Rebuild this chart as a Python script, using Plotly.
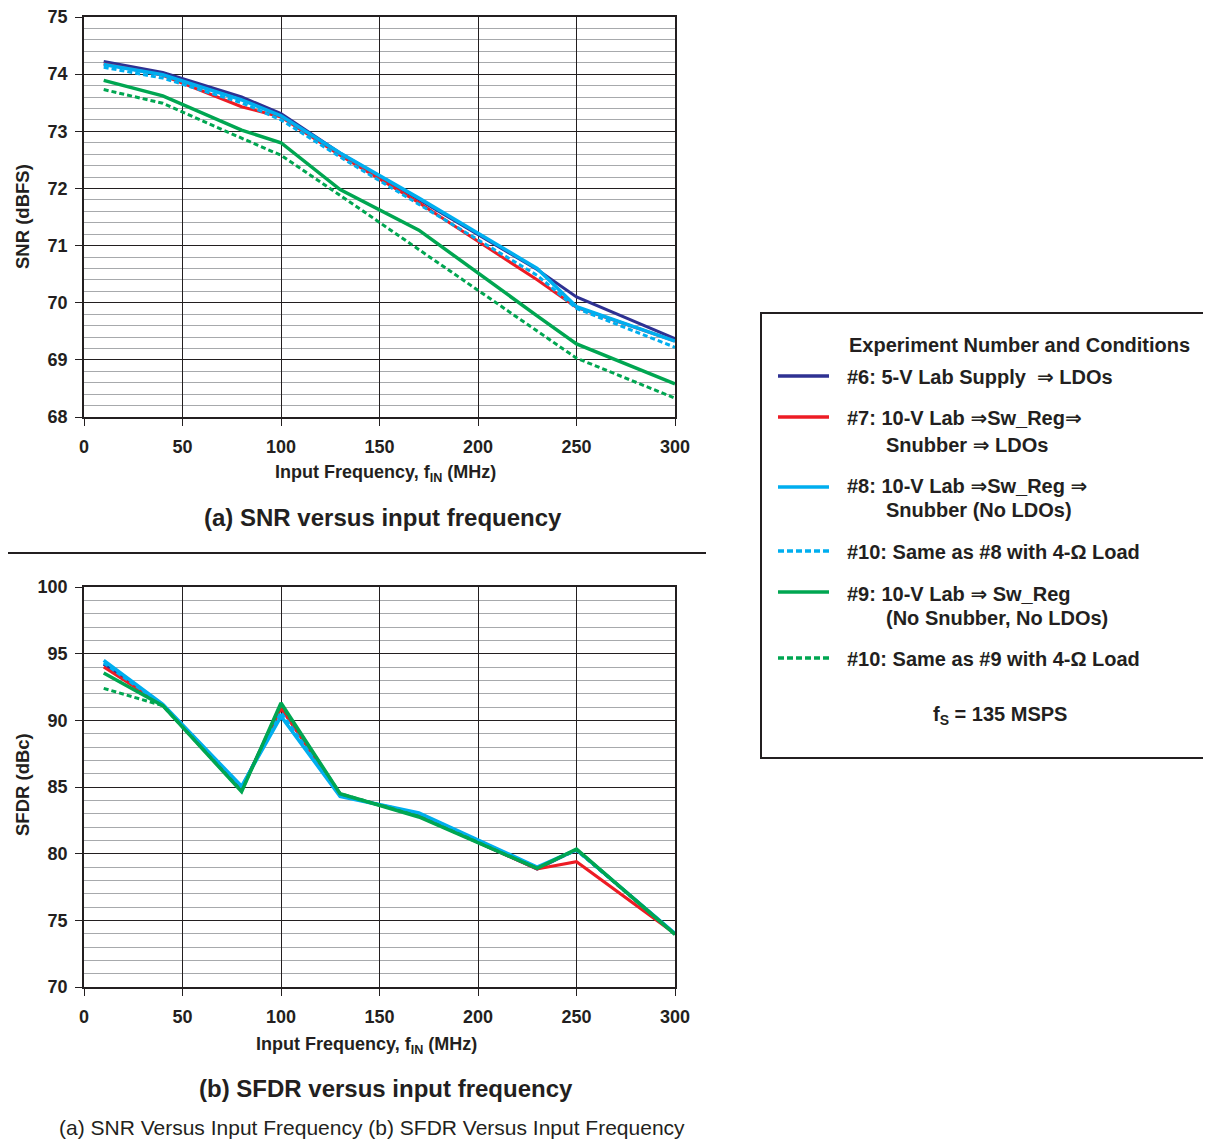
import plotly.graph_objects as go

# ---------------- data ----------------
freq = [10, 40, 80, 100, 130, 170, 230, 250, 300]

snr_6 = [74.22, 74.03, 73.60, 73.31, 72.62, 71.80, 70.58, 70.10, 69.37]
snr_7 = [74.18, 73.98, 73.43, 73.25, 72.58, 71.75, 70.40, 69.92, 69.33]
snr_8 = [74.17, 73.99, 73.55, 73.27, 72.62, 71.83, 70.60, 69.93, 69.33]
snr_10a = [74.12, 73.93, 73.50, 73.20, 72.55, 71.72, 70.48, 69.90, 69.22]
snr_9 = [73.89, 73.62, 73.02, 72.80, 71.98, 71.27, 69.77, 69.28, 68.58]
snr_10b = [73.73, 73.49, 72.88, 72.58, 71.88, 70.93, 69.50, 69.03, 68.33]

sfdr_6 = [94.20, 91.15, 84.90, 91.00, 84.45, 82.85, 78.85, 80.30, 74.00]
sfdr_7 = [94.00, 91.15, 84.85, 90.90, 84.45, 82.85, 78.85, 79.40, 74.00]
sfdr_8 = [94.50, 91.20, 85.05, 90.30, 84.30, 83.05, 79.00, 80.30, 74.00]
sfdr_10a = [94.30, 91.15, 85.00, 90.60, 84.35, 83.00, 78.95, 80.25, 74.00]
sfdr_9 = [93.55, 91.10, 84.65, 91.30, 84.50, 82.75, 78.90, 80.35, 73.95]
sfdr_10b = [92.40, 91.10, 84.70, 91.20, 84.50, 82.80, 78.90, 80.30, 73.95]

x_ticks = [0, 50, 100, 150, 200, 250, 300]
snr_ticks = [68, 69, 70, 71, 72, 73, 74, 75]
sfdr_ticks = [70, 75, 80, 85, 90, 95, 100]

ARROW = "<span style='font-family:DejaVu Sans'>\u21d2</span>"
legend_labels = [
    "#6: 5-V Lab Supply  " + ARROW + " LDOs",
    "#7: 10-V Lab " + ARROW + "Sw_Reg" + ARROW,
    "#8: 10-V Lab " + ARROW + "Sw_Reg " + ARROW,
    "#10: Same as #8 with 4-\u03a9 Load",
    "#9: 10-V Lab " + ARROW + " Sw_Reg",
    "#10: Same as #9 with 4-\u03a9 Load",
]
legend_second = ["", "Snubber " + ARROW + " LDOs", "Snubber (No LDOs)", "", "(No Snubber, No LDOs)", ""]

# ---------------- styles ----------------
NAVY = "#2e3192"
RED = "#ed1c24"
BLUE = "#00aeef"
GREEN = "#00a651"
INK = "#231f20"
FONT = "Liberation Sans, Arial, sans-serif"
OFF = 8                      # page body margin
W, H = 1211 - OFF, 1141 - OFF

def fx(p):
    return (p - OFF) / W

def fy(p):
    return 1 - (p - OFF) / H

series = [
    (snr_6, sfdr_6, NAVY, "solid", 3),
    (snr_7, sfdr_7, RED, "solid", 3),
    (snr_8, sfdr_8, BLUE, "solid", 3.5),
    (snr_10a, sfdr_10a, BLUE, "5px,3px", 3),
    (snr_10b, sfdr_10b, GREEN, "5px,3px", 3),
    (snr_9, sfdr_9, GREEN, "solid", 3.5),
]

fig = go.Figure()
for snr, sfdr, col, dash, w in series:
    fig.add_trace(go.Scatter(x=freq, y=snr, mode="lines", xaxis="x", yaxis="y",
                             line=dict(color=col, width=w, dash=dash), showlegend=False))
    fig.add_trace(go.Scatter(x=freq, y=sfdr, mode="lines", xaxis="x2", yaxis="y2",
                             line=dict(color=col, width=w, dash=dash), showlegend=False))

tickfont = dict(family=FONT, size=18, color=INK, weight="bold")
common_x = dict(range=[0, 300], tickvals=x_ticks, showgrid=True, gridcolor=INK, gridwidth=1.3,
                linecolor=INK, linewidth=1.5, mirror=True, ticks="outside", ticklen=7,
                tickcolor=INK, tickwidth=1.3, tickfont=tickfont, zeroline=False, automargin=False,
                ticklabelstandoff=6, ticklabeloverflow="allow")
common_y = dict(showgrid=True, gridcolor=INK, gridwidth=1.3,
                linecolor=INK, linewidth=1.5, mirror=True, ticks="outside", ticklen=7,
                tickcolor=INK, tickwidth=1.3, tickfont=tickfont, zeroline=False, automargin=False,
                ticklabelstandoff=4, ticklabeloverflow="allow")

xd = [fx(84), fx(675)]
fig.update_layout(
    width=W, height=H, margin=dict(l=0, r=0, t=0, b=0, pad=0, autoexpand=False),
    paper_bgcolor="white", plot_bgcolor="white", showlegend=False,
    xaxis=dict(domain=xd, anchor="y", **common_x),
    yaxis=dict(domain=[fy(417), fy(17)], anchor="x", range=[68, 75], tickvals=snr_ticks,
               minor=dict(dtick=0.2, showgrid=True, gridcolor="#a7a9ac", gridwidth=1.3), **common_y),
    xaxis2=dict(domain=xd, anchor="y2", **common_x),
    yaxis2=dict(domain=[fy(987), fy(587)], anchor="x2", range=[70, 100], tickvals=sfdr_ticks,
                minor=dict(dtick=1, showgrid=True, gridcolor="#a7a9ac", gridwidth=1.3), **common_y),
)

ann = []
def text(x, y, s, size, bold=True, xanchor="center", angle=0):
    ann.append(dict(x=fx(x), y=fy(y), xref="paper", yref="paper", text=s, showarrow=False,
                    xanchor=xanchor, yanchor="middle", textangle=angle,
                    font=dict(family=FONT, size=size, color=INK,
                              weight="bold" if bold else "normal")))

# axis titles and captions
text(22, 217, "SNR (dBFS)", 18.5, angle=-90)
text(22, 785, "SFDR (dBc)", 18.5, angle=-90)
text(385, 473, "Input Frequency, f<sub>IN</sub> (MHz)", 18)
text(366, 1045, "Input Frequency, f<sub>IN</sub> (MHz)", 18)
text(383, 517, "(a) SNR versus input frequency", 24)
text(386, 1088, "(b) SFDR versus input frequency", 24)
text(372, 1127, "(a) SNR Versus Input Frequency (b) SFDR Versus Input Frequency", 21, bold=False)

# separator and legend box
shapes = [
    dict(type="line", xref="paper", yref="paper", x0=fx(0), x1=fx(706), y0=fy(553), y1=fy(553),
         line=dict(color=INK, width=2)),
    dict(type="rect", xref="paper", yref="paper", x0=fx(761), x1=fx(1214), y0=fy(758), y1=fy(313),
         line=dict(color=INK, width=2), fillcolor="rgba(0,0,0,0)"),
]
text(847, 345, "Experiment Number and Conditions", 20, xanchor="left")
line_y = [376, 417, 487, 551, 592, 658]
text_y = [377, 418, 486, 552, 594, 659]
second_y = [None, 445, 510, None, 618, None]
for i, (snr, sfdr, col, dash, w) in enumerate([series[0], series[1], series[2], series[3], series[5], series[4]]):
    shapes.append(dict(type="line", xref="paper", yref="paper", x0=fx(778), x1=fx(829),
                       y0=fy(line_y[i]), y1=fy(line_y[i]),
                       line=dict(color=col, width=3.5, dash="6px,3px" if dash != "solid" else "solid")))
    text(845, text_y[i], legend_labels[i], 20, xanchor="left")
    if legend_second[i]:
        text(884, second_y[i], legend_second[i], 20, xanchor="left")
text(1000, 715, "f<sub>S</sub> = 135 MSPS", 20)

fig.update_layout(annotations=ann, shapes=shapes)
fig.write_html("out.html")
